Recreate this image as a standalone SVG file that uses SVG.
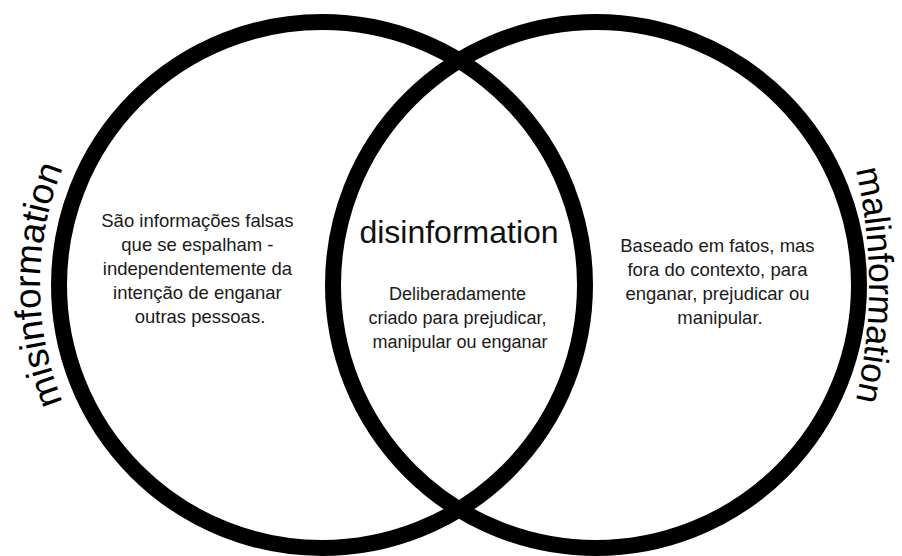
<svg xmlns="http://www.w3.org/2000/svg" width="902" height="556" viewBox="0 0 902 556">
  <style>
    .ring { fill: none; stroke: #000; stroke-width: 16; }
    .body { font-family: "Liberation Sans", Arial, sans-serif; font-size: 18.5px; fill: #1a1a1a; text-anchor: middle; }
    .title { font-family: "Liberation Sans", Arial, sans-serif; font-size: 32px; fill: #111; text-anchor: middle; }
    .arc { font-family: "Liberation Sans", Arial, sans-serif; font-size: 37px; fill: #000; }
  </style>
  <defs>
    <path id="arcLeft" d="M196,555.2 A312,312 0 0 1 196,14.8"/>
    <path id="arcRight" d="M776.8,-7.5 A510,510 0 0 1 776.8,577.5"/>
  </defs>
  <rect width="902" height="556" fill="#fff"/>

  <g id="misinformation">
    <circle class="ring" cx="322" cy="285" r="263"/>
    <text class="arc"><textPath href="#arcLeft" startOffset="50%" text-anchor="middle">misinformation</textPath></text>
    <text class="body">
      <tspan x="200" y="227">São informações falsas</tspan>
      <tspan x="200" y="251">que se espalham -</tspan>
      <tspan x="200" y="275">independentemente da</tspan>
      <tspan x="200" y="299">intenção de enganar</tspan>
      <tspan x="200" y="323">outras pessoas.</tspan>
    </text>
  </g>

  <g id="malinformation">
    <circle class="ring" cx="596" cy="285" r="263"/>
    <text class="arc" style="font-size:35.5px"><textPath href="#arcRight" startOffset="50%" text-anchor="middle">malinformation</textPath></text>
    <text class="body">
      <tspan x="720" y="252">Baseado em fatos, mas</tspan>
      <tspan x="720" y="276">fora do contexto, para</tspan>
      <tspan x="720" y="300">enganar, prejudicar ou</tspan>
      <tspan x="720" y="324">manipular.</tspan>
    </text>
  </g>

  <g id="disinformation">
    <text class="title" x="459" y="243">disinformation</text>
    <text class="body" style="font-size:18px">
      <tspan x="460" y="300">Deliberadamente</tspan>
      <tspan x="460" y="324">criado para prejudicar,</tspan>
      <tspan x="460" y="348">manipular ou enganar</tspan>
    </text>
  </g>

  <g id="connectors"></g>
</svg>
